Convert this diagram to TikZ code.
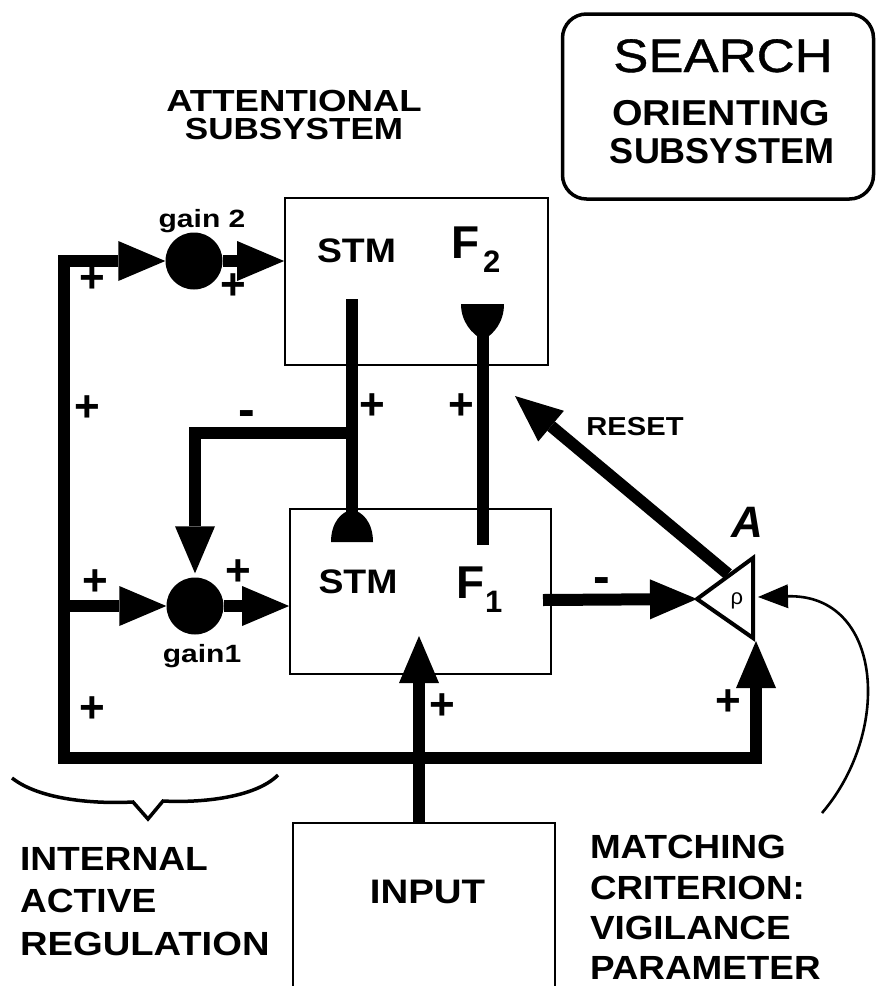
\documentclass[tikz,border=0pt]{standalone}
\usepackage{fontspec}
\usepackage{graphicx}
\setmainfont{Liberation Sans}
\usetikzlibrary{arrows.meta}
\newcommand{\fsz}[1]{\fontsize{#1pt}{#1pt}\selectfont}
\newcommand{\xs}[2]{\scalebox{#1}[1]{#2}}
\begin{document}
\begin{tikzpicture}[x=1pt,y=-1pt,
  txt/.style={inner sep=0pt,outer sep=0pt},
  bx/.style={draw,line width=1.8pt,inner sep=0pt},
  wire/.style={line width=12pt,line join=miter},
  arrowed/.style={-{Triangle[length=47pt,width=40pt,line width=0pt 0 0]}},
  arrowboth/.style={{Triangle[length=47pt,width=40pt,line width=0pt 0 0]}-{Triangle[length=47pt,width=40pt,line width=0pt 0 0]}},
  gain/.style={circle,fill,inner sep=0pt,minimum size=57pt},
  pl/.style={txt,font=\bfseries\fsz{44}},
  mn/.style={txt,font=\bfseries\fsz{50}},
  lab/.style={txt,anchor=base west,font=\bfseries\fsz{33.5}},
]
\fill[white] (0,0) rectangle (877,986);
\useasboundingbox (0,0) rectangle (877,986);

% titles
\node[txt,anchor=base,font=\bfseries\fsz{30.5}] (att1) at (294,111) {\xs{1.2}{ATTENTIONAL}};
\node[txt,anchor=base,font=\bfseries\fsz{30.5}] (att2) at (294,139) {\xs{1.15}{SUBSYSTEM}};
\node[bx,line width=3.5pt,rounded corners=24pt,minimum width=311pt,minimum height=185pt] (orbox) at (718,106.5) {};
\node[txt,anchor=base,font=\fsz{47}\addfontfeatures{FakeBold=0.8}] (search) at (723,72) {\xs{1.12}{SEARCH}};
\node[txt,anchor=base,font=\bfseries\fsz{36}] (ori1) at (721,125) {\xs{1.09}{ORIENTING}};
\node[txt,anchor=base,font=\bfseries\fsz{36}] (ori2) at (722,163) {SUBSYSTEM};

% boxes
\node[bx,minimum width=263pt,minimum height=167pt] (f2) at (416.5,281.5) {};
\node[bx,minimum width=261pt,minimum height=165pt] (f1) at (420.5,591.5) {};
\draw[line width=1.8pt] (293,990) -- (293,823) -- (555,823) -- (555,990);

\node[txt,anchor=base,font=\bfseries\fsz{34}] (stm2) at (356.5,262) {\xs{1.1}{STM}};
\node[txt,anchor=base west,font=\bfseries\fsz{46}] (f2lab) at (451,258) {F\kern4pt\raisebox{-14pt}{\fsz{31}2}};
\node[txt,anchor=base,font=\bfseries\fsz{34}] (stm1) at (358,593) {\xs{1.1}{STM}};
\node[txt,anchor=base west,font=\bfseries\fsz{46}] (f1lab) at (456,598) {F\kern1pt\raisebox{-14pt}{\fsz{31}1}};
\node[txt,anchor=base,font=\bfseries\fsz{34}] (input) at (427.5,903) {\xs{1.13}{INPUT}};

% gain nodes
\node[gain] (g2) at (194,261) {};
\node[gain] (g1) at (195,606) {};
\node[txt,anchor=base,font=\bfseries\fsz{25}] (g2lab) at (202,227) {\xs{1.2}{gain 2}};
\node[txt,anchor=base,font=\bfseries\fsz{25}] (g1lab) at (202,662) {\xs{1.2}{gain1}};

% coordinates
\coordinate (tl) at (64,261);
\coordinate (bl) at (64,758);
\coordinate (br) at (756,758);
\coordinate (Abot) at (756,641);
\coordinate (lb) at (64,606);
\coordinate (inTop) at (419,823);
\coordinate (inTip) at (419,636);
\coordinate (s2) at (352,299);
\coordinate (s1) at (352,513);
\coordinate (jn) at (352,433);
\coordinate (jc) at (195,433);
\coordinate (c2) at (483,330);
\coordinate (c1) at (483,545);
\coordinate (fo) at (543,600);
\coordinate (Al) at (697,599);
\coordinate (At) at (753,558);
\coordinate (Ab) at (753,638);
\coordinate (rs) at (728,574);
\coordinate (rt) at (515,396);
\coordinate (ce) at (822,813);
\coordinate (ct) at (758,597);

% wires
\draw[wire,arrowboth] (g2.west) -- (tl) -- (bl) -- (br) -- (Abot);
\draw[wire,arrowed] (lb) -- (g1.west);
\draw[wire,arrowed] (g2.east) -- (g2 -| f2.west);
\draw[wire,arrowed] (g1.east) -- (g1 -| f1.west);
\draw[wire,arrowed] (inTop) -- (inTip);
\draw[wire] (s2) -- (s1);
\draw[wire,arrowed] (jn) -- (jc) -- ([yshift=4pt]g1.north);
\draw[wire] (c2) -- (c1);
\draw[wire,arrowed] (fo) -- (Al);
\draw[wire,arrowed] (rs) -- (rt);

% cups
\fill (331,542) .. controls (331,522) and (342,511) .. (352,510) .. controls (362,511) and (373,522) .. (373,542) -- cycle;
\fill (461,304) -- (504,304) .. controls (504,322) and (494,334) .. (483,340) .. controls (472,334) and (461,322) .. (461,304) -- cycle;

% comparator
\draw[line width=4pt,line join=miter] (Al) -- (At) -- (Ab) -- cycle;
\node[txt,anchor=base,font=\bfseries\itshape\fsz{44}] (Alab) at (747,537) {A};
\node[txt,font=\fsz{22}] (rho) at (737,601) {ρ};
\node[txt,anchor=base,font=\bfseries\fsz{26}] (reset) at (635,435) {\xs{1.12}{RESET}};

% vigilance curve
\draw[line width=2.6pt,-{Triangle[length=30pt,width=24pt,line width=0pt 0 0]}] (ce) .. controls (893,730) and (882,594) .. (ct);

% brace
\draw[line width=3.5pt,line join=miter] (12,778) .. controls (40,800) and (95,804) .. (133,802) -- (148,819) -- (163,801) .. controls (200,803) and (255,798) .. (278,775);

% signs
\node[pl] (p1) at (92,280) {+};
\node[pl] (p2) at (233,287) {+};
\node[pl] (p3) at (87,409) {+};
\node[pl] (p4) at (372,407) {+};
\node[pl] (p5) at (461,407) {+};
\node[pl] (p6) at (95,583) {+};
\node[pl] (p7) at (238,573) {+};
\node[pl] (p8) at (92,710) {+};
\node[pl] (p9) at (442,707) {+};
\node[pl] (p10) at (728,703) {+};
\node[mn] (m1) at (247,419) {-};
\node[mn] (m2) at (602,586) {-};

% bottom labels
\node[lab] (ir1) at (20,870) {\xs{1.11}{INTERNAL}};
\node[lab] (ir2) at (20,912) {\xs{1.11}{ACTIVE}};
\node[lab] (ir3) at (20,955) {\xs{1.14}{REGULATION}};
\node[lab] (mc1) at (590,858) {\xs{1.1}{MATCHING}};
\node[lab] (mc2) at (590,899) {\xs{1.1}{CRITERION:}};
\node[lab] (mc3) at (590,939) {\xs{1.1}{VIGILANCE}};
\node[lab] (mc4) at (590,979) {\xs{1.1}{PARAMETER}};
\end{tikzpicture}
\end{document}
